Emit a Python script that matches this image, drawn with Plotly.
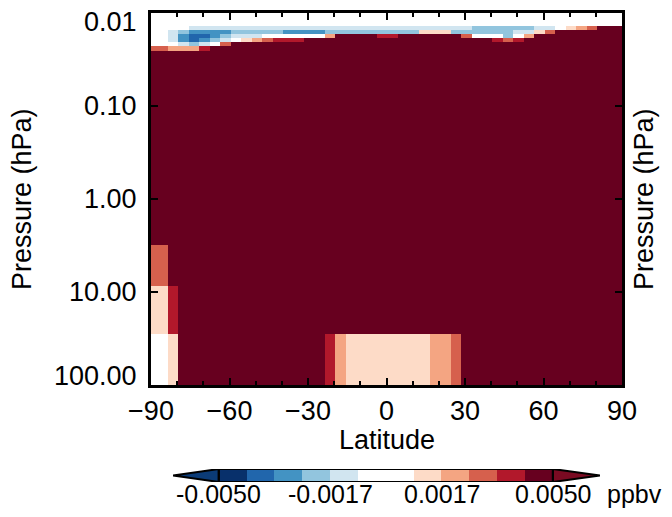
import numpy as np
import plotly.graph_objects as go

# ---------------- data ----------------
# latitude cell edges (deg)
lat_edges = [-90, -83.5, -79.5, -75.5, -71.5, -67.5, -63.5, -59.5, -55.5, -51.5, -47.5,
             -43.5, -39.5, -35.5, -31.5, -27.5, -23.5, -19.5, -15.5, -11.5, -7.5, -3.5,
             0.5, 4.5, 8.5, 12.5, 16.5, 20.5, 24.5, 28.5, 32.5, 36.5, 40.5, 44.5, 48.5,
             52.5, 56.5, 60.5, 64.5, 68.5, 72.5, 76.5, 80.5, 84.5, 88.5, 90]
# pressure cell edges (hPa), top to bottom
p_edges = [0.01, 0.0138, 0.0152, 0.0168, 0.0186, 0.0205, 0.0226, 0.0254, 3.13, 8.6, 28.3, 100]

# level codes per row (one character per latitude cell), top to bottom
rows = [
    "WWWWWWWWWWWWWWWWWWWWWWWWWWWWWWWWWWWWWWWWWWWWW",
    "WWWEEEEEEEEEEEEEEEEEEEEEEEEEEEDDDDDDEEWFGHJJJJJ",
    "WEDCCCCDDDDDCCCCDDDDDDDDDFFFDDDDDDEEFHJJJJJJJ",
    "WECBBCDEEEWWWWWWGJJJJIIJJJJJJHWWWDWGJJJJJJJJJ",
    "WECBCDEWFGHIIIJJJJJJJJJJJJJJJJJJIHIJJJJJJJJJJ",
    "WWEDEWHJJJJJJJJJJJJJJJJJJJJJJJJJJJJJJJJJJJJJJ",
    "HGGGIJJJJJJJJJJJJJJJJJJJJJJJJJJJJJJJJJJJJJJJJ",
    "JJJJJJJJJJJJJJJJJJJJJJJJJJJJJJJJJJJJJJJJJJJJJ",
    "HJJJJJJJJJJJJJJJJJJJJJJJJJJJJJJJJJJJJJJJJJJJJ",
    "FIJJJJJJJJJJJJJJJJJJJJJJJJJJJJJJJJJJJJJJJJJJJ",
    "WFJJJJJJJJJJJJJJIGFFFFFFFFGGHJJJJJJJJJJJJJJJJ",
]
# representative value (ppbv) of each level code
code_value = {"A": -0.0046, "B": -0.0038, "C": -0.0029, "D": -0.0021, "E": -0.0012,
              "W": 0.0, "F": 0.0012, "G": 0.0021, "H": 0.0029, "I": 0.0038, "J": 0.0060}

# contour levels and colours
levels = [-0.005, -0.0041667, -0.0033333, -0.0025, -0.0016667, -0.00083333, 0.0,
          0.00083333, 0.0016667, 0.0025, 0.0033333, 0.0041667, 0.005]
level_colors = ["#08306b", "#2166ac", "#4393c3", "#92c5de", "#d1e5f0", "#ffffff",
                "#ffffff", "#fddbc7", "#f4a582", "#d6604d", "#b2182b", "#67001f"]
under_color = "#0b3b77"
over_color = "#7a0a22"
cbar_tickvals = [-0.005, -0.0016667, 0.0016667, 0.005]
cbar_ticktext = ["-0.0050", "-0.0017", "0.0017", "0.0050"]

y_tickvals = [0.01, 0.1, 1, 10, 100]
y_ticktext = ["0.01", "0.10", "1.00", "10.00", "100.00"]
x_tickvals = [-90, -60, -30, 0, 30, 60, 90]

# ---------------- build ----------------
def fix(r, n=45):
    r = r[:n]
    return r + r[-1] * (n - len(r))

z = [[code_value[c] for c in fix(r)] for r in rows]

nlev = len(level_colors)
colorscale = []
for k, c in enumerate(level_colors):
    colorscale.append([k / nlev, c])
    colorscale.append([(k + 1) / nlev, c])

# page has an 8px body margin; figure sized so that it fits the 672x517 window
W, H = 656, 501
ml, mr, mt, mb = 143, 42, 5, 5
pw, ph = W - ml - mr, H - mt - mb


def px2x(px):  # window pixel -> paper x
    return (px - 8 - ml) / pw


def py2y(py):  # window pixel -> paper y
    return (H - mb - (py - 8)) / ph


FONT = "Liberation Sans, Arial, sans-serif"

fig = go.Figure()
fig.add_trace(go.Heatmap(x=lat_edges, y=p_edges, z=z, colorscale=colorscale,
                         zmin=levels[0], zmax=levels[-1], showscale=False,
                         hoverinfo="skip", xaxis="x", yaxis="y"))

# colour bar as its own small subplot
cb_centers = [(levels[i] + levels[i + 1]) / 2 for i in range(nlev)]
fig.add_trace(go.Heatmap(x=levels, y=[0, 1], z=[cb_centers], colorscale=colorscale,
                         zmin=levels[0], zmax=levels[-1], showscale=False,
                         hoverinfo="skip", xaxis="x2", yaxis="y2"))
tipL, tipR = -0.00637, 0.00641
fig.add_trace(go.Scatter(x=[tipL, levels[0], levels[0], tipL], y=[0.5, 1, 0, 0.5],
                         fill="toself", fillcolor=under_color, mode="lines",
                         line=dict(color="black", width=2), xaxis="x2", yaxis="y2",
                         hoverinfo="skip", showlegend=False))
fig.add_trace(go.Scatter(x=[tipR, levels[-1], levels[-1], tipR], y=[0.5, 1, 0, 0.5],
                         fill="toself", fillcolor=over_color, mode="lines",
                         line=dict(color="black", width=2), xaxis="x2", yaxis="y2",
                         hoverinfo="skip", showlegend=False))
fig.add_trace(go.Scatter(x=[levels[0], levels[-1], levels[-1], levels[0], levels[0]],
                         y=[0, 0, 1, 1, 0], mode="lines",
                         line=dict(color="black", width=2), xaxis="x2", yaxis="y2",
                         hoverinfo="skip", showlegend=False))

axis_common = dict(showline=True, linecolor="black", linewidth=2.5, mirror="allticks",
                   ticks="inside", tickcolor="black", tickwidth=2, showgrid=False,
                   zeroline=False, automargin=False,
                   tickfont=dict(family=FONT, size=27, color="black"))

title_font = dict(family=FONT, size=27, color="black")
tick_font = dict(family=FONT, size=27, color="black")
cb_font = dict(family=FONT, size=25, color="black")

annotations = [
    dict(text="Latitude", x=px2x(387), y=py2y(440), xref="paper", yref="paper",
         xanchor="center", yanchor="middle", showarrow=False, font=title_font),
    dict(text="Pressure (hPa)", x=px2x(22), y=py2y(199), xref="paper", yref="paper",
         xanchor="center", yanchor="middle", textangle=-90, showarrow=False,
         font=title_font),
    dict(text="Pressure (hPa)", x=px2x(644), y=py2y(199), xref="paper", yref="paper",
         xanchor="center", yanchor="middle", textangle=-90, showarrow=False,
         font=title_font),
    dict(text="ppbv", x=px2x(634), y=py2y(494), xref="paper", yref="paper",
         xanchor="center", yanchor="middle", showarrow=False, font=cb_font),
]
# pressure tick labels (end labels kept inside the frame, as in the original)
for i, (v, t) in enumerate(zip(y_tickvals, y_ticktext)):
    shift = -9 if i == 0 else (9 if i == len(y_tickvals) - 1 else 0)
    annotations.append(dict(text=t, x=px2x(139), y=np.log10(v), xref="paper", yref="y",
                            xanchor="right", yanchor="middle", yshift=shift,
                            showarrow=False, font=tick_font))
# colour bar labels
for v, t in zip(cbar_tickvals, cbar_ticktext):
    annotations.append(dict(text=t, x=v, y=py2y(494), xref="x2", yref="paper",
                            xanchor="center", yanchor="middle", showarrow=False,
                            font=cb_font))

fig.update_layout(
    width=W, height=H, margin=dict(l=ml, r=mr, t=mt, b=mb, autoexpand=False),
    paper_bgcolor="white", plot_bgcolor="white", showlegend=False,
    font=dict(family=FONT, color="black"),
    xaxis=dict(range=[-90, 90], tickvals=x_tickvals, ticklen=7,
               minor=dict(dtick=10, ticks="inside", ticklen=4, tickwidth=2, tickcolor="black"),
               domain=[0, 1], anchor="y", **axis_common),
    yaxis=dict(type="log", range=[2, -2], tickvals=y_tickvals, showticklabels=False,
               ticklen=7, domain=[py2y(385), py2y(13)], anchor="x", **axis_common),
    xaxis2=dict(range=[tipL, tipR], domain=[px2x(173), px2x(600)], anchor="y2",
                showticklabels=False, ticks="",
                showline=False, showgrid=False, zeroline=False, automargin=False),
    yaxis2=dict(range=[0, 1], domain=[py2y(482), py2y(469)], anchor="x2",
                showticklabels=False, showline=False, showgrid=False, zeroline=False,
                ticks="", automargin=False),
    annotations=annotations,
)

fig.write_html("out.html")
